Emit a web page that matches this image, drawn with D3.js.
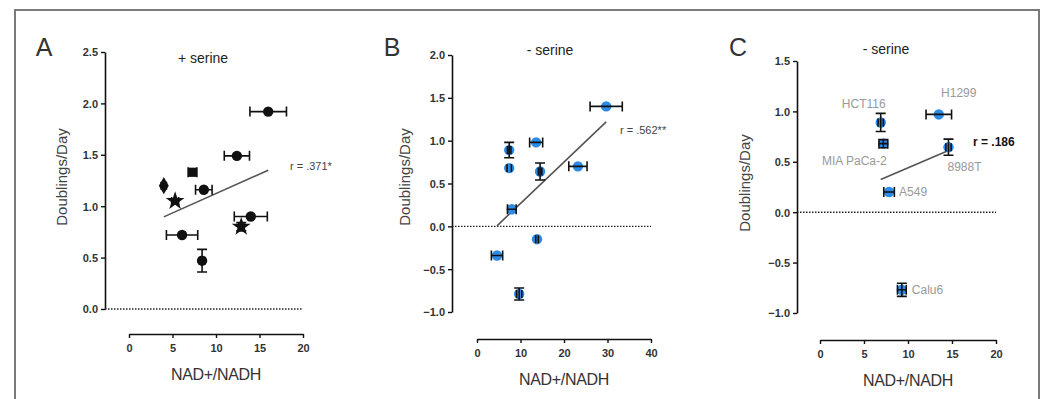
<!DOCTYPE html>
<html>
<head>
<meta charset="utf-8">
<script src="https://cdn.jsdelivr.net/npm/d3@7"></script>
<style>
  body { margin: 0; background: #fff; }
  text { font-family: "Liberation Sans", Arial, sans-serif; }
</style>
</head>
<body>
<div id="fig"></div>
<script>
// panel A: + serine
const aX = [16.0, 12.4, 7.3, 4.0, 8.6, 5.3, 14.0, 12.9, 6.1, 8.4];
const aY = [1.92, 1.49, 1.33, 1.20, 1.16, 1.05, 0.90, 0.80, 0.72, 0.47];
const aXerr = [2.1, 1.45, 0.5, 0.3, 0.95, 0.4, 1.9, 0.3, 1.8, 0.3];
const aYerr = [0.02, 0.03, 0.03, 0.02, 0.03, 0.03, 0.03, 0.04, 0.03, 0.11];
const aShape = ['circle', 'circle', 'square', 'diamond', 'circle', 'star', 'circle', 'star', 'circle', 'circle'];

// panel B: - serine
const bX = [29.7, 13.6, 7.4, 7.4, 14.5, 23.2, 8.0, 13.8, 4.6, 9.7];
const bY = [1.40, 0.98, 0.89, 0.68, 0.64, 0.70, 0.20, -0.15, -0.34, -0.79];
const bXerr = [3.7, 1.5, 0.4, 0.5, 0.4, 2.1, 1.0, 0.3, 1.3, 0.6];
const bYerr = [0.03, 0.04, 0.09, 0.04, 0.1, 0.04, 0.04, 0.02, 0.03, 0.07];

// panel C: - serine, labelled cell lines
const cNames = ['HCT116', 'MIA PaCa-2', 'H1299', '8988T', 'A549', 'Calu6'];
const cX = [6.9, 7.2, 13.5, 14.6, 7.85, 9.3];
const cY = [0.89, 0.68, 0.97, 0.645, 0.20, -0.77];
const cXerr = [0.3, 0.5, 1.45, 0.3, 0.6, 0.5];
const cYerr = [0.09, 0.04, 0.03, 0.08, 0.03, 0.065];

const yTicksA = [0, 0.5, 1.0, 1.5, 2.0, 2.5];
const yTicksB = [-1.0, -0.5, 0, 0.5, 1.0, 1.5, 2.0];
const yTicksC = [-1.0, -0.5, 0, 0.5, 1.0, 1.5];
const xTicks20 = [0, 5, 10, 15, 20];
const xTicks40 = [0, 10, 20, 30, 40];

const BLUE = '#2b8be6';

const svg = d3.select('#fig').append('svg')
    .attr('width', 1043)
    .attr('height', 399);

svg.append('rect')
    .attr('x', 15).attr('y', 10)
    .attr('width', 1024).attr('height', 400)
    .attr('fill', 'none')
    .attr('stroke', '#7a7a7a')
    .attr('stroke-width', 2);

function fit(xs, ys) {
    const mx = d3.mean(xs), my = d3.mean(ys);
    let sxy = 0, sxx = 0;
    xs.forEach((x, i) => { sxy += (x - mx) * (ys[i] - my); sxx += (x - mx) * (x - mx); });
    const m = sxy / sxx;
    return x => my + m * (x - mx);
}

function drawPanel(p) {
    const g = svg.append('g');
    const x = d3.scaleLinear().domain(p.xDomain).range(p.xRange);
    const y = d3.scaleLinear().domain(p.yDomain).range(p.yRange);

    // y axis
    const yAxis = g.append('g')
        .attr('transform', `translate(${p.yAxisX},0)`)
        .call(d3.axisLeft(y).tickValues(p.yTicks).tickFormat(d3.format('.1f')).tickSize(4).tickSizeOuter(0));
    // x axis (offset below)
    const xAxis = g.append('g')
        .attr('transform', `translate(0,${p.xAxisY})`)
        .call(d3.axisBottom(x).tickValues(p.xTicks).tickFormat(d3.format('d')).tickSize(4).tickSizeOuter(0));

    [yAxis, xAxis].forEach(a => {
        a.select('.domain').attr('stroke', '#111').attr('stroke-width', 1.6);
        a.selectAll('.tick line').attr('stroke', '#111').attr('stroke-width', 1.4);
        a.selectAll('.tick text')
            .attr('fill', '#333')
            .style('font-size', '11px')
            .style('font-weight', 'bold');
    });
    yAxis.selectAll('.tick text').attr('x', -7).attr('dy', '0.35em');
    xAxis.selectAll('.tick text').attr('y', 10);

    // zero line
    g.append('line')
        .attr('x1', p.yAxisX).attr('x2', x(p.xDomain[1]))
        .attr('y1', y(0)).attr('y2', y(0))
        .attr('stroke', '#222')
        .attr('stroke-width', 1.4)
        .attr('stroke-dasharray', '1.5,1.5');

    // regression line
    const f = fit(p.xs, p.ys);
    const x0 = d3.min(p.xs), x1 = d3.max(p.xs);
    g.append('line')
        .attr('x1', x(x0)).attr('y1', y(f(x0)))
        .attr('x2', x(x1)).attr('y2', y(f(x1)))
        .attr('stroke', '#555')
        .attr('stroke-width', 1.6);

    const pts = p.xs.map((v, i) => ({ x: v, y: p.ys[i], xe: p.xerr[i], ye: p.yerr[i], shape: p.shapes ? p.shapes[i] : 'circle' }));

    // markers
    const symbols = { circle: d3.symbolCircle, square: d3.symbolSquare, diamond: d3.symbolDiamond, star: d3.symbolStar };
    g.selectAll('.pt').data(pts).enter().append('path')
        .attr('class', 'pt')
        .attr('transform', d => `translate(${x(d.x)},${y(d.y)})`)
        .attr('d', d => d3.symbol().type(symbols[d.shape]).size(d.shape === 'star' ? 110 : 85)())
        .attr('fill', p.color);

    // error bars
    const eb = g.selectAll('.eb').data(pts).enter().append('g').attr('class', 'eb')
        .attr('stroke', '#111').attr('stroke-width', 1.6).attr('fill', 'none');
    eb.append('path').attr('d', d => {
        const cx = x(d.x), cy = y(d.y);
        const xl = x(d.x - d.xe), xr = x(d.x + d.xe);
        const yt = y(d.y + d.ye), yb = y(d.y - d.ye);
        let s = '';
        if (xr - xl > 7) s += `M${xl},${cy}H${xr}M${xl},${cy - 5}V${cy + 5}M${xr},${cy - 5}V${cy + 5}`;
        else s += `M${xl},${cy - 4}V${cy + 4}M${xr},${cy - 4}V${cy + 4}`;
        if (yb - yt > 7) s += `M${cx},${yt}V${yb}M${cx - 5},${yt}H${cx + 5}M${cx - 5},${yb}H${cx + 5}`;
        return s;
    });

    // titles
    g.append('text')
        .attr('x', (p.xRange[0] + p.xRange[1]) / 2).attr('y', p.xAxisY + 46)
        .attr('text-anchor', 'middle')
        .attr('fill', '#333')
        .style('font-size', '16px')
        .style('letter-spacing', '-0.3px')
        .text('NAD+/NADH');
    g.append('text')
        .attr('transform', `translate(${p.yTitleX},${p.yTitleY}) rotate(-90)`)
        .attr('text-anchor', 'middle')
        .attr('dy', '0.35em')
        .attr('fill', '#444')
        .style('font-size', '15px')
        .text('Doublings/Day');
    g.append('text')
        .attr('x', p.letterX).attr('y', 56)
        .attr('text-anchor', 'middle')
        .attr('fill', '#333')
        .style('font-size', '25px')
        .text(p.letter);
    g.append('text')
        .attr('x', p.condX).attr('y', p.condY)
        .attr('text-anchor', 'middle')
        .attr('fill', '#222')
        .style('font-size', '14px')
        .text(p.cond);
    g.append('text')
        .attr('x', p.rX).attr('y', p.rY)
        .attr('dy', '0.35em')
        .attr('fill', p.rBold ? '#111' : '#444')
        .style('font-size', p.rBold ? '12px' : '11px')
        .style('font-weight', p.rBold ? 'bold' : 'normal')
        .text(p.rText);

    return { g, x, y };
}

drawPanel({
    letter: 'A', letterX: 44, cond: '+ serine', condX: 203, condY: 63,
    xs: aX, ys: aY, xerr: aXerr, yerr: aYerr, shapes: aShape, color: '#111',
    xDomain: [0, 20], xRange: [129, 303], xTicks: xTicks20, xAxisY: 334,
    yDomain: [0, 2.5], yRange: [309, 52], yTicks: yTicksA, yAxisX: 105,
    yTitleX: 62, yTitleY: 177,
    rText: 'r = .371*', rX: 290, rY: 166
});

drawPanel({
    letter: 'B', letterX: 392, cond: '- serine', condX: 550, condY: 55,
    xs: bX, ys: bY, xerr: bXerr, yerr: bYerr, color: BLUE,
    xDomain: [0, 40], xRange: [477, 651], xTicks: xTicks40, xAxisY: 339,
    yDomain: [-1, 2], yRange: [312, 55], yTicks: yTicksB, yAxisX: 452,
    yTitleX: 405, yTitleY: 177,
    rText: 'r = .562**', rX: 620, rY: 130
});

const pc = drawPanel({
    letter: 'C', letterX: 738, cond: '- serine', condX: 886, condY: 54,
    xs: cX, ys: cY, xerr: cXerr, yerr: cYerr, color: BLUE,
    xDomain: [0, 20], xRange: [820, 996], xTicks: xTicks20, xAxisY: 340,
    yDomain: [-1, 1.5], yRange: [313, 61], yTicks: yTicksC, yAxisX: 797,
    yTitleX: 745, yTitleY: 183,
    rText: 'r = .186', rX: 973, rY: 142, rBold: true
});

// cell line labels for panel C
const cLabelDx = [-17, -29, 20, 16, 10, 10];
const cLabelDy = [-19, 17, -22, 20, 0, 0];
const cLabelAnchor = ['middle', 'middle', 'middle', 'middle', 'start', 'start'];
pc.g.selectAll('.cl').data(cNames).enter().append('text')
    .attr('class', 'cl')
    .attr('x', (d, i) => pc.x(cX[i]) + cLabelDx[i])
    .attr('y', (d, i) => pc.y(cY[i]) + cLabelDy[i])
    .attr('dy', '0.35em')
    .attr('text-anchor', (d, i) => cLabelAnchor[i])
    .attr('fill', '#999')
    .style('font-size', '12px')
    .text(d => d);
</script>
</body>
</html>
